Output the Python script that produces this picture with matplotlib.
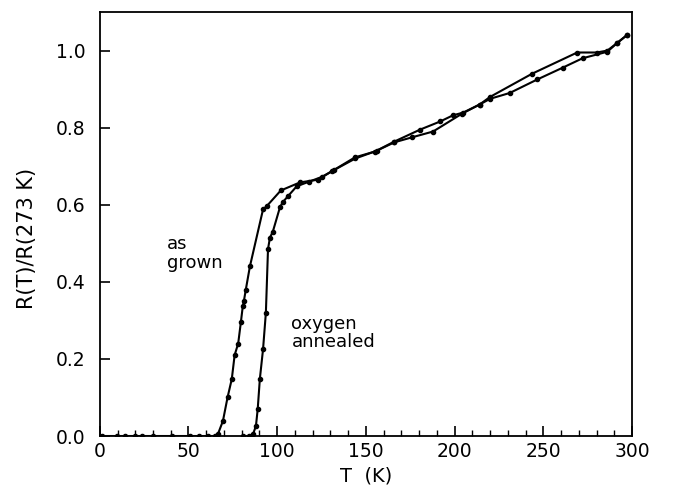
import matplotlib.pyplot as plt
from matplotlib.ticker import MultipleLocator

# as grown sample
t_grown = [1, 9.6, 14, 20, 23.7, 30, 40.6, 50.8, 56, 61, 65, 66.5, 69.4, 72, 74.4, 76, 78,
           79.5, 80.6, 81.2, 82.3, 84.6, 92, 94, 102, 112.8, 123, 130.8, 143.8, 155,
           166, 180.5, 191.8, 199, 204.7, 214, 220, 243.6, 269, 280, 286, 291.6, 297]
r_grown = [0.0, 0.0, 0.0, 0.0, 0.0, 0.0, 0.0, 0.0, 0.0, 0.0, 0.0, 0.004, 0.039, 0.10, 0.148,
           0.21, 0.24, 0.295, 0.337, 0.35, 0.38, 0.44, 0.588, 0.596, 0.637, 0.658, 0.665,
           0.687, 0.723, 0.738, 0.764, 0.795, 0.816, 0.832, 0.839, 0.86, 0.88, 0.94, 0.995,
           0.995, 1.0, 1.02, 1.04]

# oxygen annealed sample
t_oxy = [80.7, 84, 86.3, 88, 89, 90.2, 92, 93.6, 94.8, 95.9, 97.5, 101.5, 103, 106, 111,
         118, 125, 132, 144, 156, 166, 176, 187.8, 204, 214, 220, 231, 246.5, 261, 272,
         286, 291.6, 297]
r_oxy = [0.0, 0.0, 0.004, 0.026, 0.07, 0.148, 0.225, 0.32, 0.485, 0.515, 0.53, 0.593,
         0.606, 0.622, 0.648, 0.66, 0.672, 0.69, 0.72, 0.74, 0.762, 0.775, 0.79, 0.836,
         0.86, 0.875, 0.89, 0.925, 0.956, 0.98, 0.997, 1.02, 1.04]

fig = plt.figure(figsize=(6.74, 4.93), dpi=100)
ax = fig.add_axes([0.148, 0.1156, 0.79, 0.86])

for t, r in [(t_grown, r_grown), (t_oxy, r_oxy)]:
    ax.plot(t, r, color='black', lw=1.5, marker='o', ms=3, mfc='black', mec='black')

ax.set_xlim(0, 300)
ax.set_ylim(0, 1.1)
ax.xaxis.set_major_locator(MultipleLocator(50))
ax.xaxis.set_minor_locator(MultipleLocator(10))
ax.yaxis.set_major_locator(MultipleLocator(0.2))
ax.yaxis.set_major_formatter(plt.FormatStrFormatter('%.1f'))
ax.tick_params(axis='both', which='major', direction='in', length=7, width=1.2,
               labelsize=13.5)
ax.tick_params(axis='x', which='major', pad=4)
ax.tick_params(axis='y', which='major', pad=10)
ax.tick_params(axis='x', which='minor', direction='in', length=4, width=1)
for s in ax.spines.values():
    s.set_linewidth(1.3)

ax.text(38, 0.474, 'as\ngrown', fontsize=13, va='center', ha='left', linespacing=1.05)
ax.text(108, 0.267, 'oxygen\nannealed', fontsize=13, va='center', ha='left', linespacing=1.0)

ax.set_xlabel('T  (K)', fontsize=14)
ax.set_ylabel('R(T)/R(273 K)', fontsize=15)
ax.yaxis.set_label_coords(-0.118, 0.467)

fig.savefig('out.png', dpi=100)
